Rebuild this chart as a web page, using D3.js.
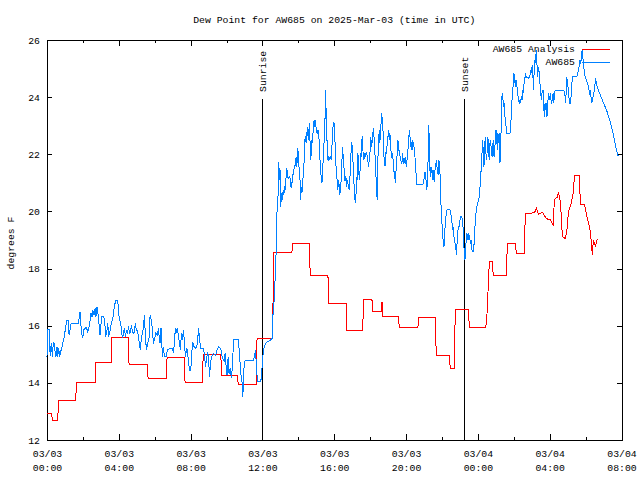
<!DOCTYPE html>
<html><head><meta charset="utf-8">
<script src="https://cdn.jsdelivr.net/npm/d3@7"></script>
<style>
body{margin:0;background:#fff}
text{font-family:"Liberation Mono","DejaVu Sans Mono",monospace;font-size:9.8px;fill:#000}
</style>
</head><body><svg id="c" width="640" height="480"></svg>
<script>
const title = "Dew Point for AW685 on 2025-Mar-03 (time in UTC)";
const yLabel = "degrees F";
const seriesNames = ["AW685 Analysis", "AW685"];
const seriesColors = ["#ff0000", "#0080ff"];
const startTime = Date.UTC(2025, 2, 3, 0, 0);
const spanHours = 32;
const yDomain = [12, 26];
const yTicks = [12, 14, 16, 18, 20, 22, 24, 26];
const sunEvents = [{label: "Sunrise", hour: 12.0}, {label: "Sunset", hour: 23.25}];

// [hours since 03/03 00:00 UTC, degrees F]
const analysisData = [[0,12.93],[0.26,12.93],[0.3,12.7],[0.6,12.7],[0.64,13.4],[1.6,13.4],[1.64,14.02],[2.68,14.02],[2.73,14.72],[3.57,14.72],[3.62,15.58],[4.53,15.58],[4.57,14.66],[5.59,14.66],[5.63,14.16],[6.63,14.16],[6.69,14.88],[7.65,14.88],[7.69,14.02],[8.66,14.02],[8.7,15.0],[9.68,15.0],[9.73,14.26],[10.61,14.26],[10.65,13.95],[11.65,13.95],[11.7,15.56],[12.56,15.56],[12.63,18.57],[13.64,18.57],[13.68,18.88],[14.62,18.88],[14.66,17.75],[15.65,17.75],[15.69,16.78],[16.67,16.78],[16.71,15.85],[17.58,15.85],[17.64,16.92],[18.1,16.92],[18.14,16.49],[18.62,16.49],[18.66,16.82],[18.7,16.34],[19.58,16.34],[19.62,15.94],[20.66,15.94],[20.71,16.28],[21.63,16.28],[21.68,14.97],[22.41,14.97],[22.46,14.51],[22.69,14.51],[22.74,16.57],[23.48,16.57],[23.52,15.95],[24.44,15.95],[24.5,16.3],[24.64,18.24],[24.8,18.24],[24.86,17.75],[25.59,17.75],[25.64,18.88],[26.09,18.88],[26.14,18.53],[26.59,18.53],[26.64,19.93],[27.15,19.95],[27.26,20.1],[27.37,19.9],[27.6,19.97],[27.81,19.75],[28.04,19.7],[28.2,19.53],[28.26,20.42],[28.43,20.5],[28.49,20.69],[28.6,20.3],[28.71,19.11],[28.88,19.05],[28.99,19.5],[29.04,19.97],[29.21,20.3],[29.32,20.69],[29.38,21.27],[29.65,21.27],[29.71,20.26],[29.93,20.26],[30.05,19.9],[30.16,19.6],[30.27,19.28],[30.38,18.47],[30.43,19.0],[30.55,18.8],[30.66,19.05]];

const stationDataNight = [[0,14.92],[0.03,15.87],[0.15,15.87],[0.17,14.95],[0.24,15.38],[0.3,14.92],[0.35,15.41],[0.41,15.38],[0.45,15.09],[0.5,14.92],[0.56,15.27],[0.6,14.92],[0.65,15.21],[0.71,14.92],[0.76,15.09],[0.82,15.21],[0.87,15.38],[0.93,15.5],[0.99,15.73],[1.04,15.97],[1.1,16.18],[1.19,16.18],[1.23,15.67],[1.28,15.85],[1.34,16.08],[1.75,16.08],[1.8,16.32],[1.84,16.49],[1.88,16.08],[1.93,15.73],[1.99,15.56],[2.04,15.85],[2.12,15.91],[2.19,15.94],[2.27,15.79],[2.34,15.94],[2.4,16.18],[2.45,16.43],[2.51,16.32],[2.56,16.53],[2.62,16.38],[2.68,16.61],[2.73,16.32],[2.79,16.67],[2.84,16.43],[2.9,16.03],[2.95,15.67],[3.01,16.08],[3.05,16.32],[3.16,16.32],[3.22,16.08],[3.27,15.62],[3.33,15.79],[3.38,16.08],[3.44,15.62],[3.49,15.76],[3.55,15.97],[3.61,16.14],[3.66,16.2],[3.72,16.55],[3.77,16.72],[3.83,16.9],[3.94,16.9],[3.98,16.55],[4.03,16.2],[4.09,16.14],[4.15,15.85],[4.2,15.56],[4.26,15.73],[4.31,15.91],[4.37,15.62],[4.43,15.85],[4.48,15.73],[4.54,15.97],[4.59,15.73],[4.65,15.79],[4.7,16.03],[4.76,15.79],[4.81,15.73],[4.87,15.79],[4.92,16.08],[4.98,15.85],[5.04,15.85],[5.09,15.62],[5.15,15.38],[5.2,15.15],[5.26,15.62],[5.32,15.73],[5.37,15.97],[5.43,16.38],[5.48,15.62],[5.54,15.15],[5.59,15.32],[5.65,15.5],[5.71,15.62],[5.74,16.37],[5.83,16.14],[5.89,15.67],[5.93,15.38],[5.98,15.5],[6.06,15.73],[6.15,15.67],[6.21,15.91],[6.24,15.67],[6.3,15.38],[6.35,15.91],[6.43,14.92],[6.48,15.27],[6.54,14.92],[6.63,14.92],[6.71,15.15],[6.86,15.21],[6.99,15.21],[7.04,15.03],[7.1,15.44],[7.15,15.91],[7.21,15.79],[7.26,15.91],[7.32,15.62],[7.38,15.38],[7.43,15.15],[7.49,15.73],[7.54,15.5],[7.6,15.85],[7.66,15.38],[7.71,14.92],[7.79,15.21],[7.88,14.8],[7.93,14.45],[8.01,14.45],[8.06,15.03],[8.12,15.44],[8.18,15.27],[8.29,15.21],[8.38,15.38],[8.44,15.91],[8.49,15.62],[8.55,15.21],[8.71,15.21],[8.77,14.97],[8.83,14.57],[8.88,14.8],[8.94,15.03],[8.99,14.97],[9.05,14.22],[9.1,14.63],[9.16,14.92],[9.27,15.03],[9.4,14.97],[9.46,15.15],[9.57,15.27],[9.7,15.15],[9.75,14.92],[9.87,14.74],[9.92,15.03],[9.98,14.57],[10.03,14.27],[10.09,14.92],[10.14,14.33],[10.2,14.51],[10.27,14.16],[10.33,14.57],[10.39,15.52],[10.66,15.52],[10.72,15.03],[10.78,14.45],[10.83,14.1],[10.89,13.98],[10.91,13.52],[10.96,14.45],[11.04,14.8],[11.5,14.8],[11.56,14.92],[11.61,15.15],[11.67,14.57],[11.72,14.04],[11.91,14.04],[11.97,14.45],[12.02,14.92],[12.1,15.27],[12.2,15.4],[12.45,15.5]];

const stationDataDay = [[12.56,15.56],[12.58,16.32],[12.67,17.02],[12.71,17.72],[12.75,18.36],[12.78,19.0],[12.8,19.93],[12.86,20.17],[12.88,21.22],[12.91,21.74],[12.95,21.1],[12.99,21.45],[13.02,20.17],[13.06,20.63],[13.1,20.4],[13.155,20.75],[13.19,20.57],[13.23,20.87],[13.27,20.75],[13.32,21.22],[13.36,21.51],[13.4,21.22],[13.45,21.16],[13.53,21.22],[13.56,20.98],[13.6,20.81],[13.64,20.98],[13.68,21.16],[13.71,21.33],[13.77,21.51],[13.82,21.62],[13.88,21.92],[13.92,21.57],[13.95,22.21],[14.01,22.03],[14.05,21.33],[14.08,21.45],[14.12,20.4],[14.16,20.87],[14.2,20.63],[14.25,21.1],[14.31,21.57],[14.34,22.27],[14.38,22.62],[14.44,22.38],[14.47,22.67],[14.51,22.97],[14.55,22.5],[14.59,22.85],[14.62,23.08],[14.66,22.27],[14.7,21.8],[14.73,22.5],[14.77,22.38],[14.81,22.67],[14.85,23.08],[14.88,23.2],[14.92,22.97],[14.96,23.2],[15.01,22.73],[15.05,22.85],[15.09,22.73],[15.12,22.85],[15.18,22.27],[15.22,21.57],[15.27,21.22],[15.31,20.98],[15.35,21.22],[15.38,21.8],[15.42,22.27],[15.46,22.73],[15.5,23.55],[15.51,24.25],[15.55,23.43],[15.59,22.62],[15.63,21.86],[15.66,21.8],[15.7,21.92],[15.74,21.8],[15.775,21.92],[15.83,21.8],[15.87,22.27],[15.91,22.62],[15.94,23.08],[15.98,23.14],[16.02,22.9],[16.05,22.27],[16.09,21.68],[16.13,21.22],[16.17,21.1],[16.2,20.75],[16.24,21.1],[16.28,20.87],[16.31,20.57],[16.35,20.87],[16.39,21.1],[16.43,21.8],[16.46,22.27],[16.5,21.92],[16.54,21.57],[16.57,21.1],[16.61,21.1],[16.65,21.22],[16.69,20.87],[16.72,21.1],[16.76,20.98],[16.8,20.87],[16.83,20.75],[16.87,21.1],[16.91,21.68],[16.95,22.27],[16.98,22.44],[17.02,22.03],[17.06,21.57],[17.09,21.1],[17.13,20.63],[17.17,20.28],[17.21,20.57],[17.24,21.22],[17.28,21.1],[17.32,22.03],[17.35,21.68],[17.39,21.1],[17.43,21.33],[17.47,22.03],[17.5,21.92],[17.54,22.5],[17.58,22.62],[17.61,21.92],[17.65,21.8],[17.69,22.03],[17.73,21.92],[17.78,22.09],[17.84,21.92],[17.87,21.8],[17.91,21.57],[17.95,21.8],[17.99,22.03],[18.02,22.62],[18.06,22.27],[18.1,22.5],[18.13,22.38],[18.17,22.91],[18.21,22.62],[18.25,22.38],[18.28,21.8],[18.32,21.27],[18.36,20.75],[18.39,20.4],[18.43,21.8],[18.47,22.5],[18.51,22.85],[18.54,22.38],[18.58,22.85],[18.62,23.2],[18.65,23.43],[18.69,22.97],[18.73,22.73],[18.77,21.92],[18.8,21.62],[18.84,21.62],[18.88,22.09],[18.91,22.03],[18.95,22.38],[18.99,22.62],[19.03,22.85],[19.06,22.5],[19.1,22.73],[19.14,22.38],[19.17,22.03],[19.21,21.86],[19.25,22.03],[19.29,21.68],[19.32,21.39],[19.36,21.39],[19.4,20.98],[19.43,21.27],[19.47,21.8],[19.51,22.03],[19.55,22.5],[19.58,22.15],[19.62,22.15],[19.66,21.97],[19.69,21.8],[19.73,21.74],[19.77,21.68],[19.81,22.03],[19.84,21.8],[19.88,21.68],[19.92,21.74],[19.95,21.92],[19.99,21.68],[20.03,21.57],[20.07,21.97],[20.1,22.15],[20.14,22.38],[20.18,22.85],[20.22,22.62],[20.25,22.27],[20.29,22.44],[20.33,22.15],[20.36,22.5],[20.4,22.38],[20.44,22.27],[20.48,22.03],[20.51,21.8],[20.55,21.39],[20.59,20.96],[20.94,20.96],[20.99,21.1],[21.05,21.39],[21.09,21.22],[21.13,20.98],[21.16,20.75],[21.2,21.27],[21.24,22.03],[21.27,23.02],[21.31,21.68],[21.35,21.22],[21.39,21.57],[21.42,21.33],[21.46,21.45],[21.5,21.1],[21.53,21.45],[21.57,21.04],[21.61,21.45],[21.65,21.57],[21.68,21.8],[21.72,21.57],[21.76,21.39],[21.79,21.27],[21.83,21.8],[21.87,21.45],[21.91,21.22],[21.94,20.52],[21.96,19.7],[22.0,19.58],[22.04,19.23],[22.07,18.88],[22.11,18.77],[22.15,19.12],[22.18,19.58],[22.22,19.82],[22.26,20.05],[22.33,20.07],[22.44,20.07],[22.48,19.93],[22.52,19.82],[22.56,19.58],[22.59,19.35],[22.63,19.47],[22.67,19.12],[22.71,19.0],[22.74,18.82],[22.78,18.65],[22.82,18.47],[22.85,19.12],[22.89,19.35],[22.93,19.47],[22.96,19.47],[23.0,19.7]];

const stationDataNext = [[23.04,19.82],[23.11,19.82],[23.17,19.47],[23.21,19.0],[23.24,18.53],[23.28,18.3],[23.32,18.77],[23.36,19.0],[23.39,19.23],[23.43,19.0],[23.47,19.23],[23.5,19.0],[23.54,19.17],[23.58,18.88],[23.62,19.0],[23.65,18.77],[23.69,18.59],[23.76,18.59],[23.8,19.0],[23.84,19.47],[23.88,19.82],[23.91,20.05],[23.95,20.17],[24.01,20.34],[24.04,20.4],[24.08,20.52],[24.12,20.87],[24.15,21.39],[24.19,21.39],[24.23,22.03],[24.27,22.5],[24.3,22.03],[24.34,21.57],[24.38,22.27],[24.41,22.62],[24.45,22.03],[24.49,21.8],[24.53,22.27],[24.56,22.62],[24.6,22.03],[24.64,21.8],[24.67,22.38],[24.71,22.5],[24.75,22.15],[24.79,21.92],[24.82,22.27],[24.86,22.5],[24.9,21.92],[24.94,22.15],[24.97,22.5],[25.01,22.85],[25.05,22.62],[25.08,22.15],[25.12,22.73],[25.16,22.38],[25.2,22.73],[25.23,21.68],[25.27,22.15],[25.31,23.43],[25.34,24.02],[25.38,24.13],[25.42,23.67],[25.46,23.78],[25.49,23.43],[25.53,23.2],[25.57,22.97],[25.6,22.73],[25.79,22.73],[25.83,22.97],[25.86,23.43],[25.9,23.9],[25.94,24.25],[25.98,24.48],[26.01,24.83],[26.05,24.6],[26.09,24.37],[26.12,24.6],[26.16,24.48],[26.2,24.25],[26.24,24.02],[26.27,23.9],[26.31,23.78],[26.35,23.9],[26.38,23.78],[26.42,24.02],[26.46,23.9],[26.5,24.25],[26.53,24.13],[26.57,24.48],[26.61,24.6],[26.64,24.83],[26.68,24.66],[26.72,24.72],[26.83,24.66],[26.87,24.72],[26.9,24.77],[26.94,24.95],[26.98,24.83],[27.02,25.07],[27.05,25.12],[27.09,24.25],[27.13,24.83],[27.16,25.3],[27.2,25.18],[27.24,25.53],[27.26,25.65],[27.29,25.18],[27.33,24.72],[27.37,25.07],[27.41,24.89],[27.44,24.72],[27.48,24.25],[27.54,23.9],[27.57,24.13],[27.63,24.25],[27.67,23.67],[27.7,23.32],[27.74,23.78],[27.78,23.55],[27.81,23.78],[27.85,23.32],[27.89,23.78],[27.94,24.13],[28.0,23.9],[28.04,24.13],[28.09,23.78],[28.15,23.9],[28.19,24.13],[28.22,23.78],[28.26,24.02],[28.3,24.25],[28.78,24.25],[28.84,24.13],[28.89,23.78],[28.95,24.72],[28.99,24.48],[29.04,24.25],[29.1,23.78],[29.15,23.78],[29.21,24.13],[29.26,24.72],[29.52,24.72],[29.58,24.89],[29.64,25.07],[29.67,25.3],[29.71,25.18],[29.75,25.3],[29.78,25.53],[29.82,25.67],[29.86,25.3],[29.9,25.07],[29.93,24.83],[29.97,24.72],[30.01,24.66],[30.04,24.6],[30.08,24.54],[30.12,24.48],[30.16,24.37],[30.19,24.25],[30.23,24.13],[30.27,24.19],[30.3,24.02],[30.34,23.78],[30.38,23.9],[30.42,24.02],[30.45,24.13],[30.49,24.25],[30.53,24.48],[30.56,24.6],[30.6,24.54],[30.64,24.37],[30.68,24.31],[30.71,24.25],[30.75,24.19],[30.82,24.07],[30.9,23.96],[30.97,23.84],[31.05,23.72],[31.12,23.61],[31.2,23.49],[31.27,23.32],[31.34,23.2],[31.42,23.02],[31.49,22.85],[31.57,22.62],[31.64,22.38],[31.72,22.15],[31.79,21.97],[31.87,21.95]];

const stationData = stationDataNight.concat(stationDataDay, stationDataNext);

const W = 640, H = 480;
const m = {left: 47, right: 618.5, top: 40, bottom: 440};
const toDate = h => new Date(startTime + h * 3600e3);
const svg = d3.select("#c");
svg.append("rect").attr("width", W).attr("height", H).attr("fill", "#fff");

const x = d3.scaleUtc().domain([toDate(0), toDate(spanHours)]).range([m.left, m.right + 3]);
const y = d3.scaleLinear().domain(yDomain).range([m.bottom, m.top]);

const tickTimes = x.ticks(d3.utcHour.every(2));
const isMajor = d => d.getUTCHours() % 4 === 0;
const fmtDate = d3.utcFormat("%m/%d"), fmtTime = d3.utcFormat("%H:%M");

// bottom axis
const gB = svg.append("g").attr("transform", `translate(0,${m.bottom})`)
  .call(d3.axisBottom(x).tickValues(tickTimes).tickSizeOuter(0).tickSizeInner(-6).tickPadding(8).tickFormat(""));
gB.selectAll(".tick line").attr("y2", d => isMajor(d) ? -6 : -3);
gB.selectAll(".tick").filter(isMajor).each(function(d) {
  const t = d3.select(this).select("text").attr("y", 0).attr("dy", null);
  t.append("tspan").attr("x", 0).attr("y", 17).text(fmtDate(d));
  t.append("tspan").attr("x", 0).attr("y", 31).text(fmtTime(d));
});
// top axis
const gT = svg.append("g").attr("transform", `translate(0,${m.top})`)
  .call(d3.axisTop(x).tickValues(tickTimes).tickSizeOuter(0).tickSizeInner(-6).tickFormat(""));
gT.selectAll(".tick line").attr("y2", d => isMajor(d) ? 6 : 3);
// left axis
svg.append("g").attr("transform", `translate(${m.left},0)`)
  .call(d3.axisLeft(y).tickValues(yTicks).tickSizeOuter(0).tickSizeInner(-5).tickPadding(7).tickFormat(d3.format("d")));
// right axis
svg.append("g").attr("transform", `translate(${x(toDate(spanHours))},0)`)
  .call(d3.axisRight(y).tickValues(yTicks).tickSizeOuter(0).tickSizeInner(-5).tickFormat(""));
svg.selectAll(".tick text").style("font-family", null).style("font-size", null).attr("font-family", null).attr("font-size", null);
svg.selectAll("g").attr("font-family", null).attr("font-size", null);
svg.selectAll(".domain, .tick line").attr("stroke", "#000").attr("shape-rendering", "crispEdges");

// title and axis label
svg.append("text").attr("x", (m.left + x(toDate(spanHours))) / 2).attr("y", 23).attr("text-anchor", "middle").text(title);
svg.append("text").attr("transform", "translate(14,243) rotate(-90)").attr("text-anchor", "middle").text(yLabel);

// sunrise / sunset markers
sunEvents.forEach(e => {
  const xx = Math.round(x(toDate(e.hour))) + 0.5;
  svg.append("line").attr("x1", xx).attr("x2", xx).attr("y1", 99).attr("y2", m.bottom)
    .attr("stroke", "#000").attr("shape-rendering", "crispEdges");
  svg.append("text").attr("transform", `translate(${xx},92) rotate(-90)`).attr("dy", "0.35em").text(e.label);
});

// data lines
const line = d3.line().x(d => x(toDate(d[0]))).y(d => y(d[1]));
[analysisData, stationData].forEach((data, i) => {
  svg.append("path").datum(data).attr("d", line).attr("fill", "none")
    .attr("stroke", seriesColors[i]).attr("stroke-width", 1).attr("shape-rendering", "crispEdges");
});

// legend
seriesNames.forEach((name, i) => {
  const yy = 49 + i * 13;
  svg.append("text").attr("x", 575).attr("y", yy).attr("dy", "0.35em").attr("text-anchor", "end").text(name);
  svg.append("line").attr("x1", 582).attr("x2", 610).attr("y1", yy + 0.5).attr("y2", yy + 0.5)
    .attr("stroke", seriesColors[i]).attr("shape-rendering", "crispEdges");
});
</script>
</body></html>
